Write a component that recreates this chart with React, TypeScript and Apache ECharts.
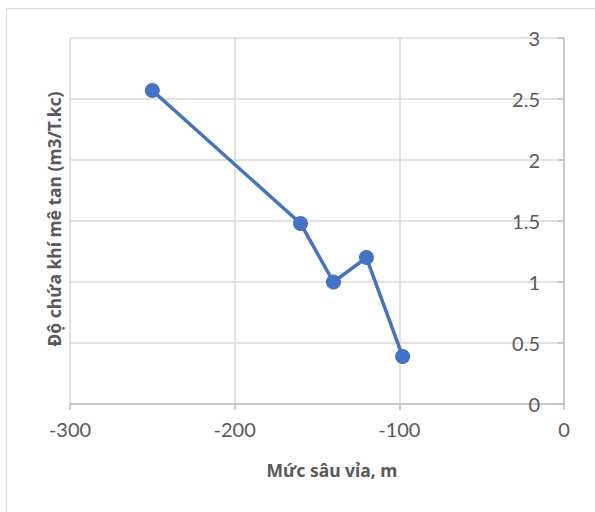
import React, { useEffect, useRef } from "react";
import * as echarts from "echarts";

const depths: number[] = [-250, -160, -140, -120, -98];
const gasContent: number[] = [2.57, 1.48, 1.0, 1.2, 0.39];
const xTitle = "Mức sâu vỉa, m";
const yTitle = "Độ chứa khí mê tan (m3/T.kc)";

const FONT = "Lato, 'Liberation Sans', sans-serif";
const TFONT = "'Noto Sans', 'DejaVu Sans', sans-serif";
const TXT = "#595959";
const GRID = "#d9d9d9";
const AXIS = "#bfbfbf";

export default function App() {
  const ref = useRef<HTMLDivElement>(null);
  useEffect(() => {
    document.body.style.margin = "0";
    if (!ref.current) return;
    const chart = echarts.init(ref.current, undefined, { renderer: "svg" });
    chart.setOption({
      animation: false,
      backgroundColor: "#ffffff",
      grid: { left: 70, right: 31, top: 38, bottom: 108, containLabel: false },
      xAxis: {
        type: "value",
        min: -300,
        max: 0,
        interval: 100,
        axisLine: { show: true, onZero: false, lineStyle: { color: AXIS, width: 1.5 } },
        axisTick: { show: true, length: 6, lineStyle: { color: AXIS, width: 1.5 } },
        axisLabel: { color: TXT, fontSize: 20, fontFamily: FONT, margin: 15 },
        splitLine: { show: true, lineStyle: { color: GRID, width: 1.5 } },
      },
      yAxis: {
        type: "value",
        position: "right",
        min: 0,
        max: 3,
        interval: 0.5,
        axisLine: { show: true, onZero: false, lineStyle: { color: AXIS, width: 1.5 } },
        axisTick: { show: true, inside: true, length: 6, lineStyle: { color: AXIS, width: 1.5 } },
        axisLabel: {
          inside: true,
          align: "right",
          color: TXT,
          fontSize: 20,
          fontFamily: FONT,
          margin: 24,
        },
        splitLine: { show: true, lineStyle: { color: GRID, width: 1.5 } },
      },
      series: [
        {
          type: "line",
          data: depths.map((d, i) => [d, gasContent[i]]),
          symbol: "circle",
          symbolSize: 15,
          itemStyle: { color: "#4472C4" },
          lineStyle: { color: "#4472C4", width: 3.5 },
          z: 5,
        },
      ],
      graphic: [
        {
          type: "rect",
          shape: { x: 6.5, y: 8.5, width: 620, height: 540 },
          style: { fill: "none", stroke: GRID, lineWidth: 1 },
          silent: true,
        },
        {
          type: "text",
          x: 332,
          y: 470,
          style: {
            text: xTitle,
            fill: TXT,
            font: `bold 17.5px ${TFONT}`,
            textAlign: "center",
            textVerticalAlign: "middle",
          },
        },
        {
          type: "text",
          x: 54,
          y: 219,
          rotation: Math.PI / 2,
          style: {
            text: yTitle,
            fill: TXT,
            font: `bold 17.5px ${TFONT}`,
            textAlign: "center",
            textVerticalAlign: "middle",
          },
        },
      ],
    });
    return () => chart.dispose();
  }, []);
  return <div ref={ref} style={{ width: 595, height: 512 }} />;
}
